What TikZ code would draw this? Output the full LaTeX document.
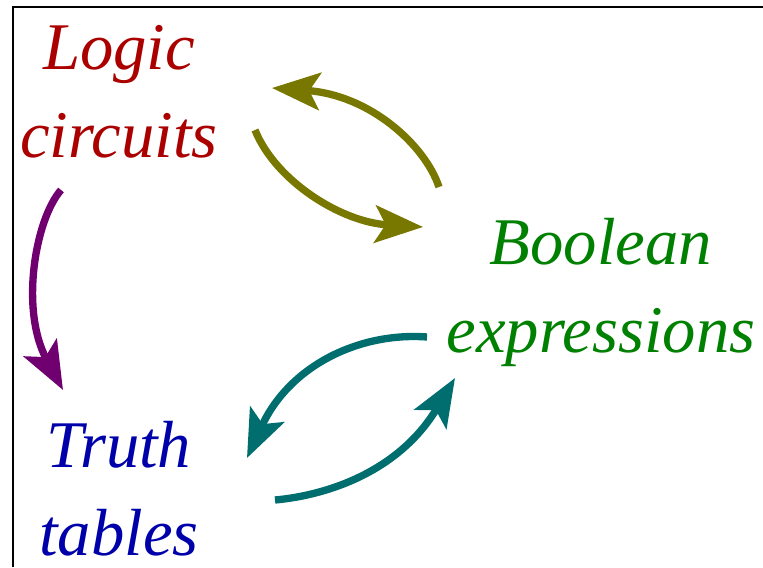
\documentclass[tikz,border=0pt]{standalone}
\usepackage{fontspec}
\setmainfont{Liberation Serif}
\usepackage{tikz}
\usetikzlibrary{arrows.meta}
\definecolor{circred}{RGB}{170,0,0}
\definecolor{boolgreen}{RGB}{0,128,0}
\definecolor{truthblue}{RGB}{0,0,170}
\definecolor{arrolive}{RGB}{120,120,0}
\definecolor{arrteal}{RGB}{0,110,110}
\definecolor{arrpurple}{RGB}{112,0,112}

\begin{document}
\begin{tikzpicture}[x=0.75pt, y=-0.75pt,
  topic/.style={inner sep=0pt, anchor=base, align=center, font=\fontsize{50}{66}\selectfont\itshape},
  link/.style={line width=5.5pt, -{Stealth[length=36pt, width=28pt, inset=8pt]}}]
\useasboundingbox (0,0) rectangle (763,567);
\draw[line width=1.5pt] (12.5,567) -- (12.5,7.5) -- (763,7.5);
\node[topic, text=circred] (logic) at (119,157) {Logic\\circuits};
\node[topic, text=boolgreen] (bool) at (601,352) {Boolean\\expressions};
\node[topic, text=truthblue] (truth) at (119,555) {Truth\\tables};
% circuits <-> expressions
\draw[link, arrolive] ([shift={(-162,-165)}]bool.base) .. controls +(-14,-42) and +(98,7) .. ([shift={(153,-69)}]logic.base);
\draw[link, arrolive] ([shift={(136,-27)}]logic.base) .. controls +(20,50) and +(-83,-5) .. ([shift={(-178,-125)}]bool.base);
% expressions <-> tables
\draw[link, arrteal] ([shift={(-174,-15)}]bool.base) .. controls +(-67,-5) and +(43,-93) .. ([shift={(128,-97)}]truth.base);
\draw[link, arrteal] ([shift={(156,-55)}]truth.base) .. controls +(55,-5) and +(-55,92) .. ([shift={(-146,26)}]bool.base);
% circuits -> tables
\draw[link, arrpurple] ([shift={(-58,33)}]logic.base) .. controls +(-26,30) and +(-43,-80) .. ([shift={(-56,-165)}]truth.base);
\end{tikzpicture}
\end{document}
